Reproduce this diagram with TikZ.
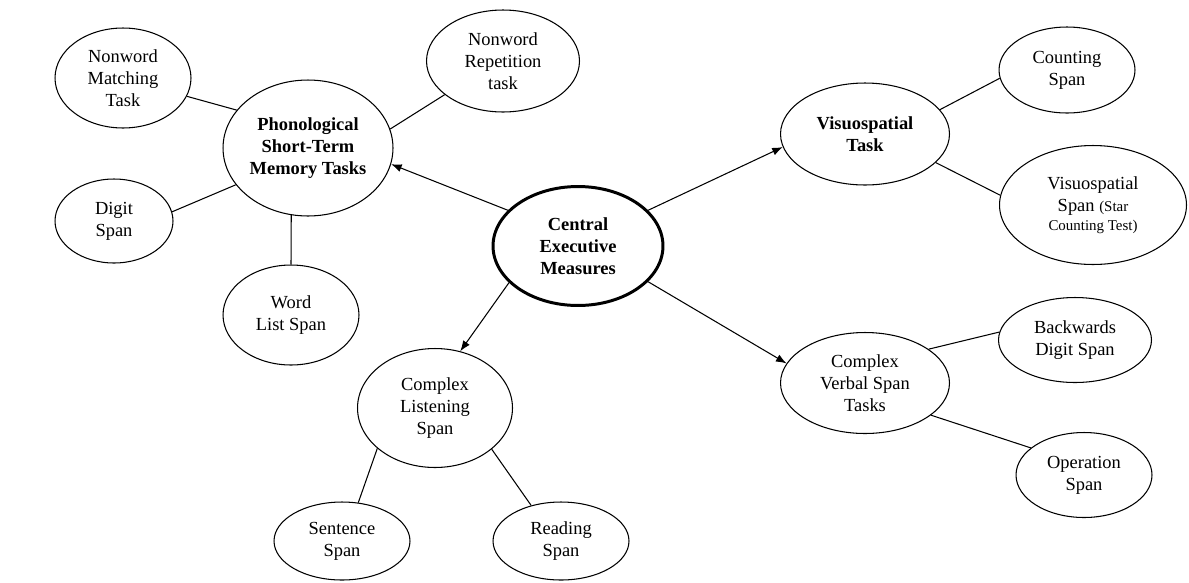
\documentclass[tikz,border=0pt]{standalone}
\usepackage{fontspec}
\setmainfont{Liberation Serif}
\usetikzlibrary{shapes.geometric, arrows.meta}

\begin{document}
\begin{tikzpicture}[x=0.02cm, y=-0.02cm,
  every node/.style={font=\fontsize{10.5}{12.5}\selectfont, align=center},
  task/.style={ellipse, draw, line width=0.6pt, inner sep=0pt},
  boldtask/.style={task, font=\fontsize{10.5}{12.5}\selectfont\bfseries},
  link/.style={line width=0.6pt},
  arrow/.style={-{Latex[length=6pt,width=4.5pt]}, line width=0.6pt}]

\useasboundingbox (0,0) rectangle (1189,582);

% Centre
\node[boldtask, line width=1.7pt, minimum width=3.4cm, minimum height=2.38cm] at (578,246) (central) {Central\\Executive\\Measures};

% Phonological branch
\node[boldtask, minimum width=3.4cm, minimum height=2.72cm] at (308,148) (phono) {Phonological\\Short-Term\\Memory Tasks};
\node[task, minimum width=2.72cm, minimum height=2cm] at (123,78) (nwmatch) {Nonword\\Matching\\Task};
\node[task, minimum width=3.06cm, minimum height=2.04cm] at (503,61) (nwrep) {Nonword\\Repetition\\task};
\node[task, minimum width=2.36cm, minimum height=1.68cm] at (114,221) (digit) {Digit\\Span};
\node[task, minimum width=2.72cm, minimum height=2cm] at (291,315) (wordlist) {Word\\List Span};

% Visuospatial branch
\node[boldtask, minimum width=3.38cm, minimum height=2.04cm] at (865,134) (visuo) {Visuospatial\\Task};
\node[task, minimum width=2.72cm, minimum height=1.72cm] at (1067,70) (counting) {Counting\\Span};
\node[task, minimum width=3.74cm, minimum height=2.38cm] at (1093,205) (vspan) {Visuospatial\\Span {\fontsize{8.5}{10}\selectfont (Star}\\[-1.5pt]{\fontsize{8.5}{10}\selectfont Counting Test)}};

% Complex verbal branch
\node[task, minimum width=3.38cm, minimum height=2.02cm] at (865,383) (verbal) {Complex\\Verbal Span\\Tasks};
\node[task, minimum width=3.06cm, minimum height=1.7cm] at (1075,340) (backdigit) {Backwards\\Digit Span};
\node[task, minimum width=2.72cm, minimum height=1.7cm] at (1084,475) (operation) {Operation\\Span};

% Complex listening branch
\node[task, minimum width=3.1cm, minimum height=2.38cm] at (435,408) (listening) {Complex\\Listening\\Span};
\node[task, minimum width=2.72cm, minimum height=1.56cm] at (342,541) (sentence) {Sentence\\Span};
\node[task, minimum width=2.72cm, minimum height=1.56cm] at (561,541) (reading) {Reading\\Span};

% Arrows from the centre
\draw[arrow] (central.153) -- (phono.-11);
\draw[arrow] (central.27) -- (visuo.189);
\draw[arrow] (central.208) -- (listening.66);
\draw[arrow] (central.-27) -- (verbal.166);

% Plain links
\draw[link] (nwmatch.-16) -- (phono.152);
\draw[link] (digit.9) -- (phono.207);
\draw[link] (wordlist.north) -- (phono.256);
\draw[link] (nwrep.210) -- (phono.13);
\draw[link] (visuo.18) -- (counting.187);
\draw[link] (visuo.-22) -- (vspan.174);
\draw[link] (verbal.28) -- (backdigit.174);
\draw[link] (verbal.-26) -- (operation.153);
\draw[link] (listening.215) -- (sentence.67);
\draw[link] (listening.-36) -- (reading.130);

\end{tikzpicture}
\end{document}
